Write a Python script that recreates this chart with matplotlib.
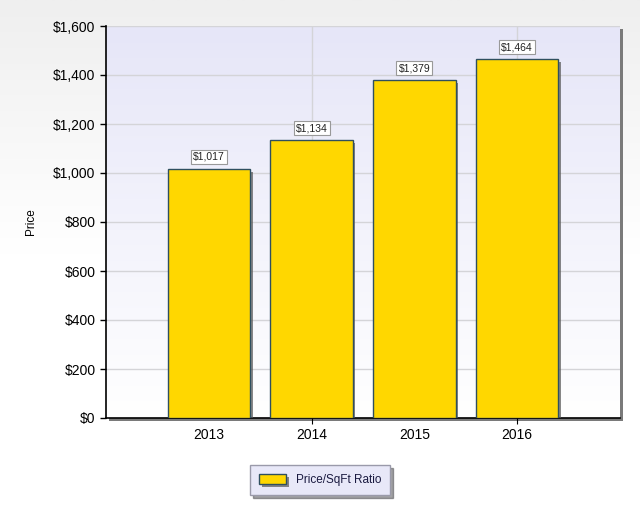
import matplotlib
matplotlib.use("Agg")
import matplotlib.pyplot as plt
import matplotlib.patheffects as pe
from matplotlib.patches import Rectangle
from matplotlib.colors import LinearSegmentedColormap
import numpy as np

years = ["2013", "2014", "2015", "2016"]
values = [1017, 1134, 1379, 1464]
value_labels = ["$1,017", "$1,134", "$1,379", "$1,464"]
yticks = [0, 200, 400, 600, 800, 1000, 1200, 1400, 1600]
ytick_labels = ["$0", "$200", "$400", "$600", "$800", "$1,000", "$1,200", "$1,400", "$1,600"]
series_name = "Price/SqFt Ratio"

plt.rcParams['font.family'] = ['Liberation Sans', 'DejaVu Sans']

fig = plt.figure(figsize=(6.4, 5.07), dpi=100)

# figure background gradient
bg = fig.add_axes([0, 0, 1, 1], zorder=-10)
grad = np.linspace(0, 1, 256).reshape(-1, 1)
cm_fig = LinearSegmentedColormap.from_list("figbg", ["#ffffff", "#ffffff", "#efefef"])
bg.imshow(grad, aspect='auto', cmap=cm_fig, origin='lower', extent=[0, 1, 0, 1])
bg.set_axis_off()

L, B, W, H = 106/640, 89/507, 514/640, 392/507
# axes shadow
fig.patches.append(Rectangle((L + 3/640, B - 3/507), W, H, transform=fig.transFigure,
                             facecolor='#7a7a7a', edgecolor='none', zorder=-5))

ax = fig.add_axes([L, B, W, H])
cm_ax = LinearSegmentedColormap.from_list("axbg", ["#ffffff", "#e6e6f8"])
ax.imshow(grad, aspect='auto', cmap=cm_ax, origin='lower', extent=[0, 1, 0, 1],
          transform=ax.transAxes, zorder=0)

x = np.arange(1, len(years) + 1)
bars = ax.bar(x, values, width=0.8, color='#FFD700', edgecolor='#2f4f5f', linewidth=1.0, zorder=3,
              path_effects=[pe.SimplePatchShadow(offset=(2, -2), shadow_rgbFace='#555555', alpha=0.7), pe.Normal()])

for xi, v, lab in zip(x, values, value_labels):
    ax.annotate(lab, (xi, v), xytext=(0, 5), textcoords='offset points', ha='center', va='bottom',
                fontsize=7.5, color='#222222', zorder=5,
                bbox=dict(boxstyle='square,pad=0.2', facecolor='white', edgecolor='#999999', linewidth=0.8))

ax.set_xlim(0, 5)
ax.set_ylim(0, 1600)
ax.set_yticks(yticks)
ax.set_yticklabels(ytick_labels)
ax.set_xticks([2, 4])
ax.set_xticklabels([years[1], years[3]])
ax.set_xticks([1, 3], minor=True)
ax.set_xticklabels([years[0], years[2]], minor=True)
ax.tick_params(axis='both', which='both', labelsize=10, colors='black')
ax.tick_params(axis='x', which='minor', length=0, pad=7)
ax.tick_params(axis='x', which='major', length=4, pad=3)
ax.tick_params(axis='y', length=4, width=1)

ax.grid(True, which='major', color='#d4d4d8', linewidth=1, zorder=1)
ax.set_axisbelow(True)
for s in ['top', 'right']:
    ax.spines[s].set_visible(False)
ax.spines['left'].set_color('black')
ax.spines['bottom'].set_color('black')
ax.spines['left'].set_linewidth(1.2)
ax.spines['bottom'].set_linewidth(1.2)

ax.set_ylabel("Price", fontsize=8.5)
ax.yaxis.set_label_coords(-(106 - 37) / 514, 0.5)

leg = fig.legend([bars[0]], [series_name], loc='center', bbox_to_anchor=(320/640, 1 - 480/507),
                 fontsize=8.5, frameon=True, fancybox=False, shadow=True, handlelength=2.3,
                 handleheight=0.9, borderpad=0.75, labelcolor='#1a1a40')
leg.get_frame().set_facecolor('#e8e8f8')
leg.get_frame().set_edgecolor('#9a9aaa')
leg.get_frame().set_alpha(1)

fig.savefig("out.png", dpi=100)
